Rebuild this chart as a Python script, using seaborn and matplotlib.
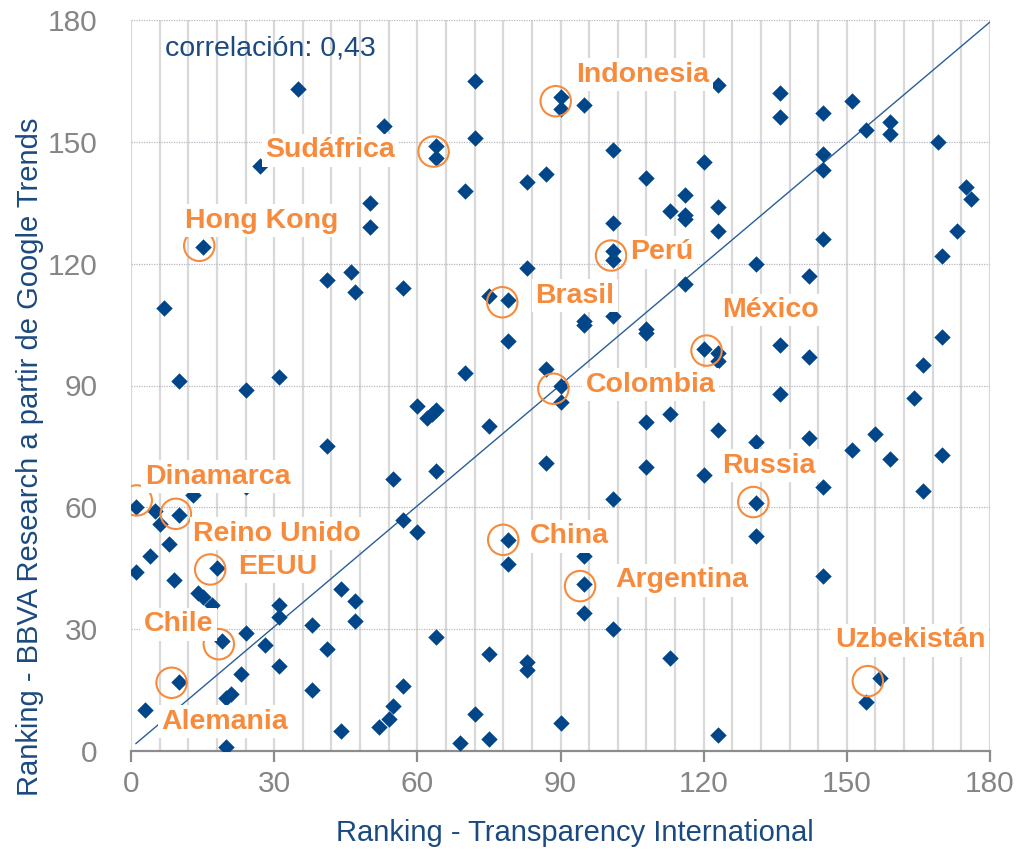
import matplotlib
matplotlib.use("Agg")
import matplotlib.pyplot as plt
import seaborn as sns
import pandas as pd
import numpy as np

# ---------------- data ----------------
ti_rank = [35, 53, 27, 50, 50, 15, 41, 46, 72, 95, 90, 90, 64, 64, 72, 70, 83, 87, 101, 108,
           116, 113, 116, 116, 101, 101, 101, 83, 120, 123, 136, 136, 145, 151, 154, 159, 159, 169, 145, 145,
           175, 176, 123, 123, 145, 173, 170, 131, 142, 47, 57, 7, 10, 24, 31, 60, 41, 55, 13, 24,
           1, 5, 10, 75, 79, 95, 95, 101, 108, 108, 116, 79, 70, 87, 90, 90, 62, 63, 64, 75,
           108, 113, 64, 87, 108, 101, 120, 120, 123, 123, 136, 142, 170, 166, 136, 164, 123, 131, 142, 151,
           156, 159, 170, 145, 166, 131, 6, 8, 4, 1, 9, 18, 14, 15, 17, 19, 24, 28, 31, 31,
           23, 31, 38, 41, 44, 47, 47, 38, 21, 20, 10, 3, 20, 44, 52, 54, 55, 57, 57, 60,
           79, 79, 95, 95, 95, 101, 64, 75, 83, 83, 113, 72, 90, 69, 75, 131, 145, 157, 154, 123]
gt_rank = [163, 154, 144, 135, 129, 124, 116, 118, 165, 159, 161, 158, 149, 146, 151, 138, 140, 142, 148, 141,
           137, 133, 132, 131, 130, 123, 121, 119, 145, 164, 162, 156, 157, 160, 153, 155, 152, 150, 147, 143,
           139, 136, 134, 128, 126, 128, 122, 120, 117, 113, 114, 109, 91, 89, 92, 85, 75, 67, 63, 65,
           60, 59, 58, 112, 111, 106, 105, 107, 104, 103, 115, 101, 93, 94, 90, 86, 82, 83, 84, 80,
           81, 83, 69, 71, 70, 62, 68, 99, 98, 96, 100, 97, 102, 95, 88, 87, 79, 76, 77, 74,
           78, 72, 73, 65, 64, 61, 56, 51, 48, 44, 42, 45, 39, 38, 36, 27, 29, 26, 36, 33,
           19, 21, 31, 25, 40, 37, 32, 15, 14, 13, 17, 10, 1, 5, 6, 8, 11, 16, 57, 54,
           52, 46, 48, 41, 34, 30, 28, 24, 22, 20, 23, 9, 7, 2, 3, 53, 43, 18, 12, 4]

countries = ["Indonesia", "Sudáfrica", "Hong Kong", "Perú", "Brasil", "México", "Colombia",
             "Dinamarca", "Russia", "Reino Unido", "China", "EEUU", "Argentina", "Chile",
             "Uzbekistán", "Alemania"]
hl_x = [89, 63.4, 14.3, 100.6, 77.8, 120.6, 88.5, 1.2, 130.4, 9.4, 78, 16.6, 94.1, 18.4, 154.4, 8.5]
hl_y = [160, 147.6, 124.4, 122, 110.5, 98.6, 89.2, 61.7, 61.3, 58.4, 52, 44.7, 40.6, 26.3, 17.2, 16.8]

correlation_text = "correlación: 0,43"
x_label = "Ranking - Transparency International"
y_label = "Ranking - BBVA Research a partir de Google Trends"
ticks = [0, 30, 60, 90, 120, 150, 180]

# label anchor positions (left edge, vertical centre) in data units
label_pos = [(93.3, 166.5), (28.2, 147.9), (11.4, 130.6), (104.6, 122.8), (84.7, 112.1),
             (123.8, 108.6), (95.3, 90.2), (2.9, 67.5), (123.9, 70.2), (13.0, 53.5),
             (83.5, 52.9), (22.5, 45.3), (101.4, 42.0), (2.7, 31.2), (147.5, 27.3), (6.4, 7.2)]

# ---------------- style ----------------
sns.set_theme(style="white")
plt.rcParams["font.family"] = ["Liberation Sans", "DejaVu Sans"]

BLUE = "#02468A"
ORANGE = "#F68B3D"
AXBLUE = "#1B4A80"
GRAY = "#858585"

fig = plt.figure(figsize=(10.19, 8.5), dpi=100)
ax = fig.add_axes([131 / 1019, 1 - 751 / 850, (990 - 131) / 1019, (751 - 20) / 850])

ax.set_xlim(0, 180)
ax.set_ylim(0, 180)

# grid: vertical light grey every 6, horizontal dotted every 30
for xv in np.arange(0, 181, 6):
    ax.axvline(xv, color="#D9D9D9", lw=1.6, zorder=0)
for yv in ticks[1:]:
    ax.axhline(yv, color="#B8B8C4", lw=0.9, ls=(0, (1, 1)), zorder=0.5)

# diagonal
ax.plot([1, 180], [1.8, 179.5], color="#2A5E97", lw=1.0, zorder=1)

df = pd.DataFrame({"ti": ti_rank, "gt": gt_rank})
sns.scatterplot(data=df, x="ti", y="gt", marker="D", s=70, color=BLUE,
                linewidth=0, ax=ax, zorder=3)

ax.scatter(hl_x, hl_y, s=480, facecolors="none", edgecolors=ORANGE,
           linewidths=1.5, zorder=4)

for name, (lx, ly) in zip(countries, label_pos):
    ax.text(lx, ly, name, color=ORANGE, fontsize=20.5, fontweight="bold",
            ha="left", va="center", zorder=5,
            bbox=dict(facecolor="white", edgecolor="none", pad=2.5))

ax.text(7.1, 173.1, correlation_text, color=AXBLUE, fontsize=20.5,
        ha="left", va="center", zorder=6)

# axes styling
for side in ["left", "right", "top"]:
    ax.spines[side].set_visible(False)
ax.spines["bottom"].set_color("#8C8C8C")
ax.spines["bottom"].set_linewidth(1.6)
ax.spines["bottom"].set_zorder(2)

ax.set_xticks(ticks)
ax.set_yticks(ticks)
ax.set_xticklabels([str(t) for t in ticks])
ax.set_yticklabels([str(t) for t in ticks])
ax.tick_params(axis="x", direction="out", length=8, width=1.6, color="#8C8C8C",
               labelsize=21.5, labelcolor=GRAY, pad=6, bottom=True)
ax.tick_params(axis="y", length=0, labelsize=21.5, labelcolor=GRAY, pad=24)

ax.set_xlabel(x_label, fontsize=21, color=AXBLUE)
ax.set_ylabel(y_label, fontsize=21, color=AXBLUE)
ax.xaxis.set_label_coords(0.517, -0.093)
ax.yaxis.set_label_coords(-0.101, 0.402)
ax.grid(False)

fig.savefig("out.png", dpi=100)
